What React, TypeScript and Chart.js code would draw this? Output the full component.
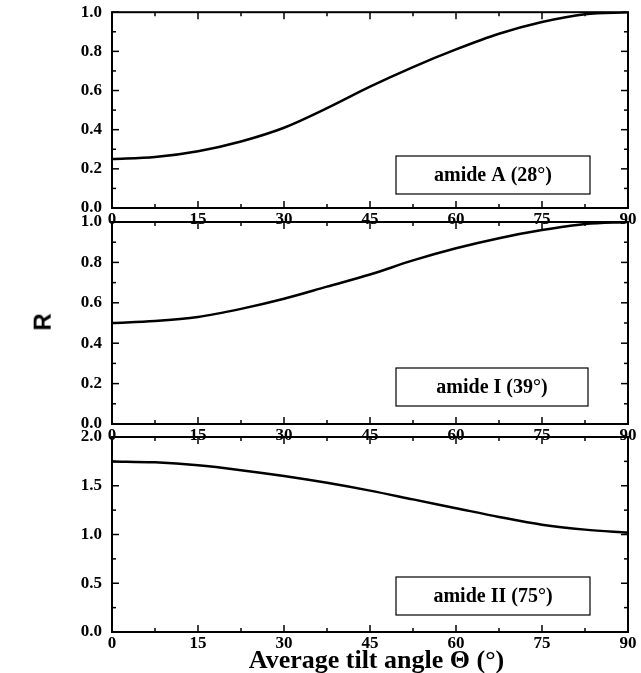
import { useEffect, useRef } from 'react';
import Chart from 'chart.js/auto';

const angles = [0, 7.5, 15, 22.5, 30, 37.5, 45, 52.5, 60, 67.5, 75, 82.5, 90];
const amideA = [0.25, 0.26, 0.29, 0.34, 0.41, 0.51, 0.62, 0.72, 0.81, 0.89, 0.95, 0.99, 1.0];
const amideI = [0.5, 0.51, 0.53, 0.57, 0.62, 0.68, 0.74, 0.81, 0.87, 0.92, 0.96, 0.99, 1.0];
const amideII = [1.75, 1.74, 1.71, 1.66, 1.6, 1.53, 1.45, 1.36, 1.27, 1.18, 1.1, 1.05, 1.02];
const labels = ['amide A (28°)', 'amide I (39°)', 'amide II (75°)'];

const W = 641, H = 673;
const FONT = '"Liberation Serif", "Times New Roman", serif';

const inwardTicks = {
  id: 'inwardTicks',
  afterDraw(chart: any, _a: any, opts: any) {
    const { ctx, chartArea: a, scales } = chart;
    ctx.save();
    ctx.strokeStyle = '#000';
    ctx.lineWidth = 1.5;
    const x = scales.x, y = scales.y;
    for (let v = 0; v <= 90; v += 7.5) {
      const px = x.getPixelForValue(v);
      const len = v % 15 === 0 ? 7 : 4;
      ctx.beginPath(); ctx.moveTo(px, a.bottom); ctx.lineTo(px, a.bottom - len); ctx.stroke();
      ctx.beginPath(); ctx.moveTo(px, a.top); ctx.lineTo(px, a.top + len); ctx.stroke();
    }
    const half = opts.step / 2;
    for (let v = 0; v <= y.max + 1e-9; v += half) {
      const py = y.getPixelForValue(v);
      const major = Math.abs(v / opts.step - Math.round(v / opts.step)) < 1e-6;
      const len = major ? 7 : 4;
      ctx.beginPath(); ctx.moveTo(a.left, py); ctx.lineTo(a.left + len, py); ctx.stroke();
      ctx.beginPath(); ctx.moveTo(a.right, py); ctx.lineTo(a.right - len, py); ctx.stroke();
    }
    ctx.lineWidth = 2;
    ctx.strokeRect(a.left, a.top, a.right - a.left, a.bottom - a.top);
    const b = opts.box;
    ctx.lineWidth = 1.2;
    ctx.fillStyle = '#fff';
    ctx.fillRect(b[0], b[1], b[2], b[3]);
    ctx.strokeRect(b[0], b[1], b[2], b[3]);
    ctx.fillStyle = '#000';
    ctx.font = `bold 20px ${FONT}`;
    ctx.textAlign = 'center';
    ctx.textBaseline = 'middle';
    ctx.fillText(opts.text, b[0] + b[2] / 2, b[1] + b[3] / 2 + 1);
    ctx.restore();
  },
};

type Panel = { data: number[]; top: number; bottom: number; max: number; step: number; text: string; box: number[] };

const panels: Panel[] = [
  { data: amideA, top: 12, bottom: 208, max: 1, step: 0.2, text: labels[0], box: [396, 156, 194, 38] },
  { data: amideI, top: 222, bottom: 424, max: 1, step: 0.2, text: labels[1], box: [396, 368, 192, 38] },
  { data: amideII, top: 437, bottom: 632, max: 2, step: 0.5, text: labels[2], box: [396, 577, 194, 38] },
];

const PanelChart = ({ p }: { p: Panel }) => {
  const ref = useRef<HTMLCanvasElement | null>(null);
  useEffect(() => {
    if (!ref.current) return;
    const tickFont = { family: FONT, size: 17, weight: 'bold' as const };
    const chart = new Chart(ref.current, {
      type: 'line',
      data: {
        datasets: [{
          data: angles.map((a, i) => ({ x: a, y: p.data[i] })),
          borderColor: '#000', borderWidth: 2.5, pointRadius: 0,
          cubicInterpolationMode: 'monotone',
        }],
      },
      options: {
        animation: false, responsive: false,
        layout: { padding: { top: p.top, bottom: H - p.bottom - 24, right: 13, left: 0 } },
        plugins: { legend: { display: false }, tooltip: { enabled: false }, inwardTicks: { step: p.step, box: p.box, text: p.text } } as any,
        scales: {
          x: {
            type: 'linear', min: 0, max: 90,
            afterFit: (s: any) => { s.height = 24; },
            grid: { display: false }, border: { display: false },
            ticks: { stepSize: 15, color: '#000', font: tickFont, padding: -7 },
          },
          y: {
            min: 0, max: p.max,
            afterFit: (s: any) => { s.width = 112; },
            grid: { display: false }, border: { display: false },
            ticks: { stepSize: p.step, color: '#000', font: tickFont, padding: 2, callback: (v: any) => Number(v).toFixed(1) },
          },
        },
      },
      plugins: [inwardTicks],
    });
    return () => chart.destroy();
  }, []);
  return <canvas ref={ref} width={W} height={H} style={{ position: 'absolute', left: 0, top: 0 }} />;
};

export default function App() {
  return (
    <div style={{ position: 'fixed', left: 0, top: 0, width: W, height: H, background: '#fff', fontFamily: FONT }}>
      {panels.map((p, i) => <PanelChart key={i} p={p} />)}
      <div style={{ position: 'absolute', left: 34, top: 308, fontFamily: '"Liberation Sans", Arial, sans-serif', fontWeight: 'bold', fontSize: 24, transform: 'rotate(-90deg)' }}>R</div>
      <div style={{ position: 'absolute', left: 0, width: W, paddingLeft: 112, boxSizing: 'border-box', top: 645, textAlign: 'center', fontWeight: 'bold', fontSize: 26, lineHeight: '30px' }}>
        Average tilt angle Θ (°)
      </div>
    </div>
  );
}
